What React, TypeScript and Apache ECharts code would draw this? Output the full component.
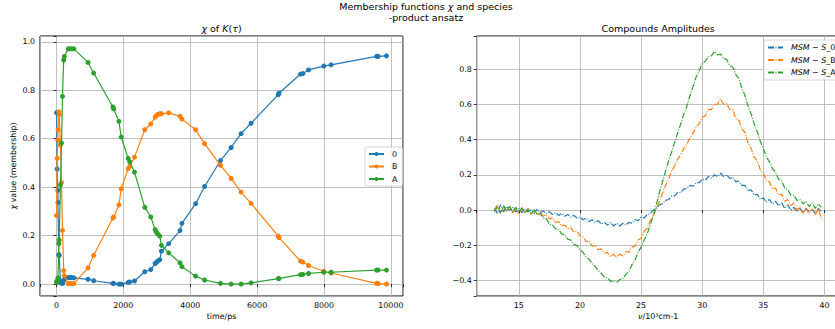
import React, { useEffect, useRef } from 'react';
import * as echarts from 'echarts';

const FONT = 'DejaVu Sans';
const BLUE = '#1f77b4';
const ORANGE = '#ff7f0e';
const GREEN = '#2ca02c';

// ---- left panel: membership functions chi(t) ----
const timesPs = [0, 20, 40, 45, 70, 80, 120, 150, 180, 215, 235, 350, 400, 450, 520, 943, 1112, 1688, 1710, 1867, 1936, 2145, 2190, 2333, 2641, 2820, 2950, 2985, 3030, 3090, 3140, 3356, 3694, 3753, 4161, 4429, 4905, 5224, 5521, 5819, 6634, 6654, 7298, 7367, 7537, 7993, 8212, 9572, 9620, 9869];
const chi0 = [0.708, 0.475, 0.387, 0.337, 0.122, 0.118, 0.012, 0.004, 0.003, 0.015, 0.020, 0.027, 0.027, 0.027, 0.026, 0.020, 0.014, 0.003, 0.003, 0.000, 0.000, 0.007, 0.009, 0.013, 0.051, 0.060, 0.085, 0.090, 0.095, 0.101, 0.136, 0.167, 0.221, 0.251, 0.332, 0.403, 0.510, 0.564, 0.621, 0.664, 0.782, 0.788, 0.867, 0.869, 0.884, 0.900, 0.905, 0.940, 0.940, 0.942];
const chiB = [0.283, 0.519, 0.594, 0.637, 0.711, 0.700, 0.574, 0.420, 0.222, 0.056, 0.035, 0.002, 0.002, 0.002, 0.002, 0.067, 0.119, 0.273, 0.277, 0.327, 0.393, 0.477, 0.486, 0.524, 0.637, 0.661, 0.689, 0.695, 0.700, 0.703, 0.703, 0.707, 0.693, 0.681, 0.637, 0.580, 0.490, 0.436, 0.380, 0.333, 0.198, 0.192, 0.095, 0.091, 0.077, 0.053, 0.046, 0.003, 0.002, 0.000];
const chiA = [0.010, 0.006, 0.019, 0.026, 0.167, 0.182, 0.410, 0.582, 0.775, 0.925, 0.940, 0.971, 0.971, 0.971, 0.971, 0.915, 0.871, 0.731, 0.723, 0.672, 0.607, 0.519, 0.505, 0.462, 0.317, 0.277, 0.225, 0.215, 0.207, 0.198, 0.160, 0.129, 0.088, 0.072, 0.033, 0.017, 0.003, 0.000, 0.000, 0.005, 0.023, 0.023, 0.039, 0.040, 0.044, 0.049, 0.049, 0.058, 0.058, 0.058];
const chiNames = ['0', 'B', 'A'];

// ---- right panel: compound amplitudes vs wavenumber (10^3 cm-1) ----
const wavenumber = [
  13.0, 13.25, 13.5, 13.75, 14.0, 14.25, 14.5, 14.75,
  15.0, 15.25, 15.5, 15.75, 16.0, 16.25, 16.5, 16.75,
  17.0, 17.25, 17.5, 17.75, 18.0, 18.25, 18.5, 18.75,
  19.0, 19.25, 19.5, 19.75, 20.0, 20.25, 20.5, 20.75,
  21.0, 21.25, 21.5, 21.75, 22.0, 22.25, 22.5, 22.75,
  23.0, 23.25, 23.5, 23.75, 24.0, 24.25, 24.5, 24.75,
  25.0, 25.25, 25.5, 25.75, 26.0, 26.25, 26.5, 26.75,
  27.0, 27.25, 27.5, 27.75, 28.0, 28.25, 28.5, 28.75,
  29.0, 29.25, 29.5, 29.75, 30.0, 30.25, 30.5, 30.75,
  31.0, 31.25, 31.5, 31.75, 32.0, 32.25, 32.5, 32.75,
  33.0, 33.25, 33.5, 33.75, 34.0, 34.25, 34.5, 34.75,
  35.0, 35.25, 35.5, 35.75, 36.0, 36.25, 36.5, 36.75,
  37.0, 37.25, 37.5, 37.75, 38.0, 38.25, 38.5, 38.75,
  39.0, 39.25, 39.5, 39.75,
];
const ampS0 = [
  0.01, -0.02, 0.03, -0.01, 0.02, 0.0, 0.015, -0.01,
  0.01, -0.015, 0.005, -0.01, 0.0, -0.02, 0.005, -0.015,
  -0.005, -0.02, -0.01, -0.025, -0.015, -0.03, -0.02, -0.035,
  -0.025, -0.04, -0.03, -0.045, -0.04, -0.055, -0.045, -0.065,
  -0.055, -0.07, -0.06, -0.08, -0.07, -0.085, -0.07, -0.09,
  -0.075, -0.09, -0.075, -0.085, -0.07, -0.075, -0.055, -0.06,
  -0.04, -0.045, -0.025, -0.02, 0.0, 0.01, 0.03, 0.035,
  0.055, 0.06, 0.08, 0.08, 0.1, 0.1, 0.12, 0.12,
  0.14, 0.135, 0.155, 0.155, 0.175, 0.17, 0.19, 0.18,
  0.2, 0.19, 0.21, 0.19, 0.2, 0.18, 0.185, 0.16,
  0.165, 0.14, 0.14, 0.11, 0.115, 0.085, 0.09, 0.06,
  0.07, 0.045, 0.06, 0.035, 0.05, 0.025, 0.04, 0.01,
  0.03, 0.0, 0.015, -0.01, 0.01, -0.015, 0.01, -0.01,
  0.005, -0.02, 0.01, -0.01,
];
const ampSB = [
  0.0, 0.03, -0.02, 0.02, -0.01, 0.025, -0.015, 0.01,
  -0.02, 0.015, -0.02, 0.01, -0.025, 0.005, -0.025, -0.01,
  -0.035, -0.025, -0.05, -0.045, -0.07, -0.065, -0.09, -0.085,
  -0.105, -0.1, -0.125, -0.12, -0.145, -0.15, -0.18, -0.175,
  -0.205, -0.2, -0.225, -0.22, -0.245, -0.24, -0.265, -0.25,
  -0.27, -0.25, -0.26, -0.235, -0.24, -0.21, -0.205, -0.17,
  -0.16, -0.12, -0.105, -0.06, -0.035, 0.01, 0.05, 0.095,
  0.14, 0.175, 0.22, 0.25, 0.29, 0.315, 0.35, 0.375,
  0.41, 0.435, 0.47, 0.49, 0.525, 0.535, 0.57, 0.57,
  0.6, 0.6, 0.63, 0.6, 0.605, 0.57, 0.57, 0.52,
  0.51, 0.46, 0.44, 0.38, 0.35, 0.3, 0.28, 0.23,
  0.21, 0.17, 0.16, 0.12, 0.125, 0.085, 0.09, 0.05,
  0.06, 0.025, 0.04, 0.0, 0.02, -0.02, 0.01, -0.02,
  0.005, -0.03, 0.01, -0.05,
];
const ampSA = [
  -0.01, 0.02, -0.015, 0.025, -0.005, 0.02, -0.01, 0.015,
  -0.01, 0.01, -0.015, 0.005, -0.02, 0.0, -0.025, -0.02,
  -0.045, -0.05, -0.08, -0.085, -0.105, -0.11, -0.135, -0.14,
  -0.165, -0.17, -0.195, -0.2, -0.225, -0.24, -0.265, -0.28,
  -0.305, -0.32, -0.345, -0.36, -0.38, -0.385, -0.405, -0.4,
  -0.41, -0.395, -0.39, -0.365, -0.35, -0.31, -0.285, -0.24,
  -0.21, -0.17, -0.135, -0.085, -0.03, 0.03, 0.1, 0.16,
  0.22, 0.28, 0.33, 0.385, 0.44, 0.49, 0.545, 0.59,
  0.65, 0.7, 0.755, 0.79, 0.83, 0.845, 0.87, 0.875,
  0.9, 0.88, 0.885, 0.86, 0.855, 0.82, 0.81, 0.77,
  0.745, 0.69, 0.65, 0.59, 0.545, 0.49, 0.445, 0.39,
  0.35, 0.3, 0.275, 0.235, 0.215, 0.175, 0.165, 0.125,
  0.115, 0.085, 0.085, 0.055, 0.06, 0.035, 0.05, 0.02,
  0.04, 0.01, 0.035, 0.015,
];
const ampNames = ['MSM − S_0', 'MSM − S_B', 'MSM − S_A'];

const isMult = (v: number, step: number) => Math.abs(v / step - Math.round(v / step)) < 1e-6;
const fmtMinus = (s: string) => s.replace('-', '\u2212');

const tickLabel = {
  color: '#000',
  fontSize: 7.9,
  fontFamily: FONT,
  margin: 5,
};
const splitLine = { show: true, lineStyle: { color: '#b0b0b0', width: 0.8 } };
const axisTick = { show: true, length: 3, inside: false, lineStyle: { color: '#000', width: 0.8 } };

const txt = (x: number, y: number, text: string, size: number, extra: any = {}) => ({
  type: 'text',
  x,
  y,
  silent: true,
  ...extra,
  style: {
    text,
    fontSize: size,
    fontFamily: FONT,
    fill: '#000',
    align: 'center',
    verticalAlign: 'middle',
    textAlign: 'center',
    textVerticalAlign: 'middle',
    rich: {
      i: { fontStyle: 'italic', fontSize: size, fontFamily: FONT, fill: '#000' },
    },
  },
});

export default function App() {
  const ref = useRef<HTMLDivElement>(null);
  useEffect(() => {
    if (!ref.current) return;
    const chart = echarts.init(ref.current, null, { renderer: 'svg' });
    const leftVals = [chi0, chiB, chiA];
    const rightVals = [ampS0, ampSB, ampSA];
    const colors = [BLUE, ORANGE, GREEN];
    const option: any = {
      animation: false,
      backgroundColor: '#fff',
      grid: [
        { left: 40, top: 36, width: 363, height: 260, show: true, borderColor: '#000', borderWidth: 1, backgroundColor: 'transparent' },
        { left: 476.7, top: 36, width: 363, height: 260, show: true, borderColor: '#000', borderWidth: 1, backgroundColor: 'transparent' },
      ],
      xAxis: [
        {
          type: 'value', gridIndex: 0, min: -493, max: 10363, splitNumber: 5,
          axisLine: { show: false }, axisTick, splitLine,
          axisLabel: { ...tickLabel, formatter: (v: number) => (isMult(v, 2000) ? String(Math.round(v)) : '') },
        },
        {
          type: 'value', gridIndex: 1, min: 11.55, max: 41.25, splitNumber: 5,
          axisLine: { show: false }, axisTick, splitLine,
          axisLabel: { ...tickLabel, formatter: (v: number) => (isMult(v, 5) ? String(Math.round(v)) : '') },
        },
      ],
      yAxis: [
        {
          type: 'value', gridIndex: 0, min: -0.049, max: 1.024, splitNumber: 5,
          axisLine: { show: false }, axisTick, splitLine,
          axisLabel: { ...tickLabel, formatter: (v: number) => (isMult(v, 0.2) ? fmtMinus(v.toFixed(1)) : '') },
        },
        {
          type: 'value', gridIndex: 1, min: -0.4875, max: 0.9875, splitNumber: 7,
          axisLine: { show: false }, axisTick, splitLine,
          axisLabel: { ...tickLabel, formatter: (v: number) => (isMult(v, 0.2) ? fmtMinus((Math.abs(v) < 1e-9 ? 0 : v).toFixed(1)) : '') },
        },
      ],
      legend: [
        {
          data: chiNames,
          left: 365, top: 147, orient: 'vertical',
          itemWidth: 15, itemHeight: 5, itemGap: 4.5,
          padding: [3, 5, 3, 3],
          borderColor: '#cccccc', borderWidth: 0.8, borderRadius: 2,
          backgroundColor: 'rgba(255,255,255,0.8)',
          textStyle: { fontFamily: FONT, fontSize: 7.9, color: '#000', padding: [0, 0, 0, 3] },
          selectedMode: false,
        },
        {
          data: ampNames,
          left: 764, top: 40, orient: 'vertical',
          itemWidth: 15, itemHeight: 5, itemGap: 3.5,
          padding: [3, 5, 3, 3],
          borderColor: '#cccccc', borderWidth: 0.8, borderRadius: 2,
          backgroundColor: 'rgba(255,255,255,0.8)',
          itemStyle: { opacity: 0 },
          formatter: (name: string) => '{i|MSM} − {i|S}' + name.slice(name.lastIndexOf('S') + 1),
          textStyle: {
            fontFamily: FONT, fontSize: 7.9, color: '#000', padding: [0, 0, 0, 3], lineHeight: 9,
            rich: { i: { fontStyle: 'italic', fontFamily: FONT, fontSize: 7.9, color: '#000', lineHeight: 9 } },
          },
          selectedMode: false,
        },
      ],
      series: [
        ...chiNames.map((n, k) => ({
          name: n, type: 'line', xAxisIndex: 0, yAxisIndex: 0,
          data: timesPs.map((t, i) => [t, leftVals[k][i]]),
          symbol: 'circle', symbolSize: 5, showSymbol: true,
          lineStyle: { color: colors[k], width: 1.2 },
          itemStyle: { color: colors[k], borderWidth: 0 },
          emphasis: { disabled: true },
          z: 2 + k,
        })),
        ...ampNames.map((n, k) => ({
          name: n, type: 'line', xAxisIndex: 1, yAxisIndex: 1,
          data: wavenumber.map((w, i) => [w, rightVals[k][i]]),
          symbol: 'none',
          lineStyle: { color: colors[k], width: 1.2, type: [6, 1.5, 1, 1.5] },
          itemStyle: { color: colors[k] },
          emphasis: { disabled: true },
          z: 2 + k,
        })),
      ],
      graphic: [
        txt(426, 6.5, 'Membership functions {i|χ} and species', 9.5),
        txt(426, 17.5, '-product ansatz', 9.5),
        txt(221.5, 28, '{i|χ} of {i|K}({i|τ})', 9.5),
        txt(658.2, 28, 'Compounds Amplitudes', 9.5),
        txt(221.5, 316, 'time/ps', 7.9),
        txt(658.2, 316, '{i|ν}/10³cm-1', 7.9),
        txt(13.3, 166, '{i|χ} value (membership)', 7.9, { rotation: Math.PI / 2 }),
      ],
    };
    chart.setOption(option);
    return () => chart.dispose();
  }, []);
  return (
    <div style={{ position: 'fixed', left: 0, top: 0, width: 835, height: 329, overflow: 'hidden', background: '#fff' }}>
      <div ref={ref} style={{ width: 850, height: 329 }} />
    </div>
  );
}
